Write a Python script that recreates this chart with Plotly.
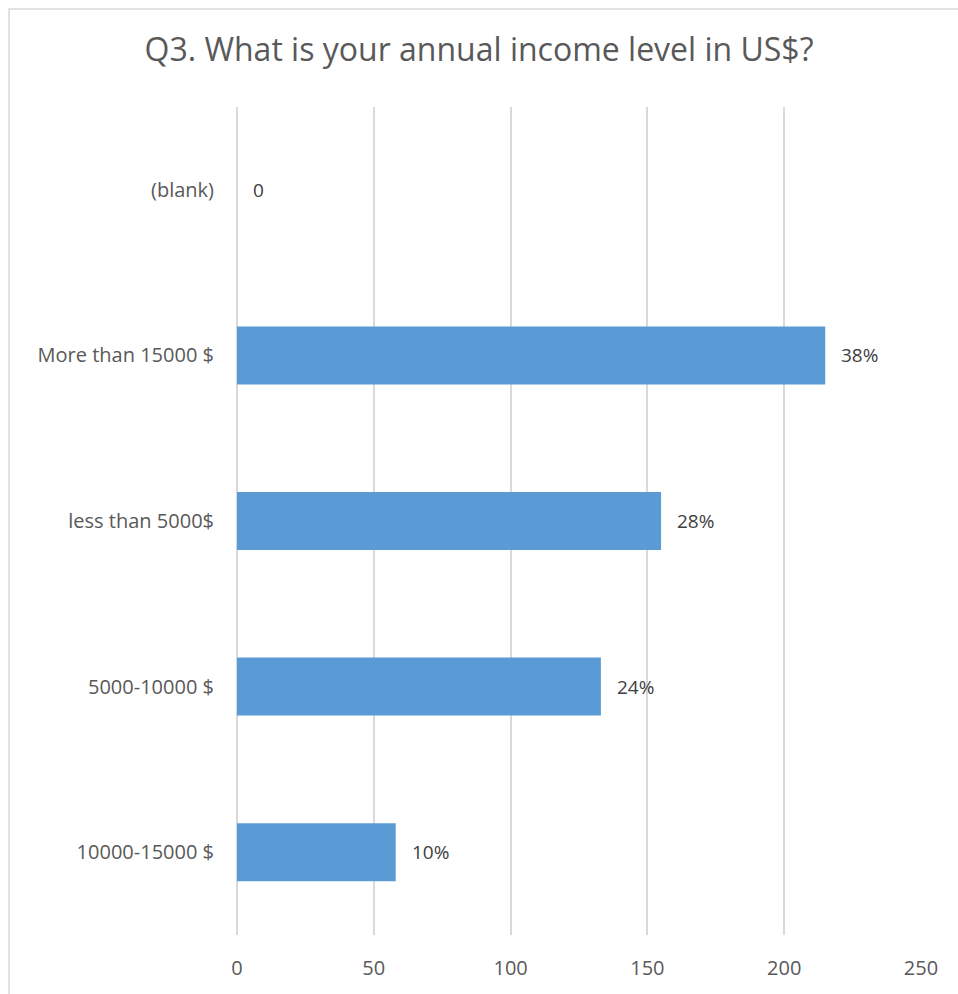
import plotly.graph_objects as go

# Survey responses, listed top to bottom
categories = ["(blank)", "More than 15000 $", "less than 5000$", "5000-10000 $", "10000-15000 $"]
counts = [0, 215, 155, 133, 58]
x_ticks = [0, 50, 100, 150, 200, 250]

total = sum(counts)
labels = [f"{round(v / total * 100)}%" if v else "0" for v in counts]

FONT = "Open Sans"
GREY_TEXT = "#595959"
GRID = "#d9d9d9"

fig = go.Figure()
fig.add_trace(go.Bar(
    x=counts,
    y=categories,
    orientation="h",
    width=0.35,
    marker=dict(color="#5B9BD5", line=dict(width=0)),
    hoverinfo="x+y",
))

for v, c, t in zip(counts, categories, labels):
    fig.add_annotation(
        x=v, y=c, text=t, showarrow=False,
        xanchor="left", yanchor="middle", xshift=14,
        font=dict(family=FONT, size=19, color="#404040"),
    )

# Chart frame
fig.add_shape(
    type="rect", xref="paper", yref="paper",
    x0=-0.3333, x1=1.06, y0=-0.08, y1=1.1184,
    line=dict(color=GRID, width=1.5), fillcolor="rgba(0,0,0,0)", layer="below",
)

fig.update_layout(
    width=958, height=994,
    margin=dict(l=237, r=37, t=107, b=59),
    paper_bgcolor="white", plot_bgcolor="white",
    showlegend=False,
    title=dict(
        text="Q3. What is your annual income level in US$?",
        x=0.5, xref="container", xanchor="center",
        y=1 - 50 / 994, yref="container", yanchor="middle",
        font=dict(family=FONT, size=32, color=GREY_TEXT),
    ),
    xaxis=dict(
        range=[0, 250], tickvals=x_ticks, showgrid=True,
        gridcolor=GRID, gridwidth=1.5, zeroline=True, zerolinecolor=GRID, zerolinewidth=1.5,
        showline=False, ticks="", ticklabelstandoff=19,
        tickfont=dict(family=FONT, size=20, color=GREY_TEXT),
        fixedrange=True,
    ),
    yaxis=dict(
        categoryorder="array", categoryarray=categories, autorange="reversed",
        showgrid=False, showline=False, ticks="", ticklabelstandoff=22,
        tickfont=dict(family=FONT, size=20, color=GREY_TEXT),
        fixedrange=True,
    ),
)

fig.write_html("out.html")
